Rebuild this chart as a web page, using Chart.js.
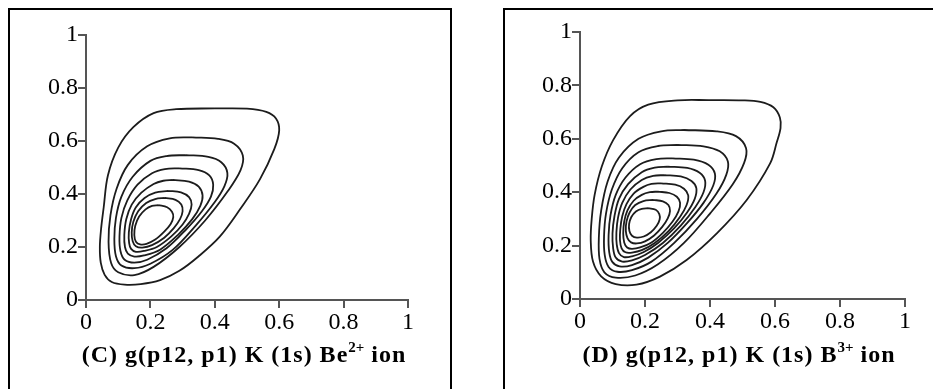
<!DOCTYPE html>
<html>
<head>
<meta charset="utf-8">
<title>g(p12, p1) contours</title>
<script src="https://cdn.jsdelivr.net/npm/chart.js@4.4.0/dist/chart.umd.min.js"></script>
<style>
    body {
        margin: 0;
        width: 933px;
        height: 389px;
        overflow: hidden;
        position: relative;
        background: #fff;
        font-family: "Liberation Serif", "Times New Roman", serif;
    }
    .box {
        position: absolute;
        top: 8px;
        height: 400px;
        border: 2px solid #000;
        box-sizing: border-box;
    }
    #boxC { left: 8px; width: 444px; }
    #boxD { left: 503px; width: 460px; }
    canvas { position: absolute; }
    .caption {
        position: absolute;
        top: 341px;
        font-size: 24px;
        line-height: 26px;
        letter-spacing: 1px;
        font-weight: bold;
        white-space: nowrap;
        transform: translateX(-50%);
    }
    .caption sup { font-size: 15px; vertical-align: 10px; line-height: 0; letter-spacing: 0; }
</style>
</head>
<body>
<div class="box" id="boxC"></div>
<div class="box" id="boxD"></div>
<canvas id="chartC" width="440" height="330" style="left:10px; top:10px;"></canvas>
<canvas id="chartD" width="428" height="330" style="left:505px; top:10px;"></canvas>
<div class="caption" id="capC" style="left:244px;"></div>
<div class="caption" id="capD" style="left:739px;"></div>

<script>
// tick labels shared by both axes of both panels
const tickValues = [0, 0.2, 0.4, 0.6, 0.8, 1];

// captions
const captionC = ["(C) g(p12, p1) K (1s) Be", "2+", " ion"];
const captionD = ["(D) g(p12, p1) K (1s) B", "3+", " ion"];

// contour lines, panel C (Be2+), outer to inner, [p12, p1] points
const contoursC = [
    [[0.40,0.723],[0.50,0.722],[0.56,0.71],[0.59,0.685],[0.60,0.64],[0.585,0.57],[0.54,0.455],[0.48,0.345],[0.416,0.24],[0.35,0.165],[0.29,0.11],[0.23,0.075],[0.17,0.06],[0.12,0.058],[0.08,0.068],[0.058,0.095],[0.046,0.14],[0.043,0.2],[0.047,0.27],[0.055,0.35],[0.068,0.47],[0.1,0.575],[0.147,0.652],[0.21,0.705],[0.28,0.72],[0.40,0.723]],
    [[0.33,0.614],[0.41,0.608],[0.46,0.59],[0.487,0.545],[0.48,0.49],[0.44,0.41],[0.37,0.30],[0.29,0.20],[0.21,0.125],[0.15,0.094],[0.10,0.105],[0.078,0.14],[0.070,0.22],[0.076,0.32],[0.095,0.42],[0.13,0.51],[0.19,0.58],[0.26,0.61],[0.33,0.614]],
    [[0.31,0.547],[0.38,0.54],[0.42,0.52],[0.439,0.48],[0.43,0.43],[0.40,0.37],[0.34,0.28],[0.27,0.19],[0.20,0.137],[0.15,0.12],[0.11,0.13],[0.093,0.165],[0.088,0.23],[0.093,0.31],[0.11,0.39],[0.145,0.465],[0.2,0.525],[0.25,0.543],[0.31,0.547]],
    [[0.29,0.497],[0.35,0.49],[0.383,0.47],[0.395,0.435],[0.388,0.39],[0.36,0.335],[0.31,0.265],[0.25,0.195],[0.19,0.152],[0.15,0.141],[0.12,0.152],[0.107,0.185],[0.104,0.24],[0.11,0.31],[0.128,0.375],[0.16,0.435],[0.205,0.478],[0.245,0.494],[0.29,0.497]],
    [[0.27,0.453],[0.32,0.447],[0.35,0.428],[0.362,0.395],[0.355,0.355],[0.33,0.305],[0.285,0.245],[0.23,0.19],[0.18,0.168],[0.15,0.164],[0.13,0.175],[0.121,0.2],[0.119,0.245],[0.125,0.305],[0.142,0.36],[0.172,0.405],[0.21,0.438],[0.24,0.45],[0.27,0.453]],
    [[0.255,0.412],[0.295,0.406],[0.32,0.388],[0.328,0.36],[0.32,0.325],[0.30,0.285],[0.265,0.24],[0.22,0.2],[0.18,0.185],[0.155,0.182],[0.14,0.193],[0.134,0.215],[0.133,0.255],[0.14,0.305],[0.155,0.35],[0.182,0.385],[0.215,0.405],[0.255,0.412]],
    [[0.245,0.385],[0.278,0.378],[0.296,0.36],[0.30,0.335],[0.292,0.305],[0.272,0.27],[0.243,0.235],[0.205,0.207],[0.175,0.198],[0.155,0.203],[0.145,0.222],[0.142,0.255],[0.147,0.295],[0.162,0.335],[0.187,0.366],[0.215,0.381],[0.245,0.385]],
    [[0.225,0.358],[0.252,0.35],[0.267,0.333],[0.271,0.313],[0.263,0.287],[0.243,0.258],[0.215,0.228],[0.188,0.212],[0.168,0.21],[0.155,0.22],[0.15,0.245],[0.153,0.28],[0.165,0.315],[0.185,0.342],[0.205,0.355],[0.225,0.358]]
];

// contour lines, panel D (B3+)
const contoursD = [
    [[0.40,0.745],[0.50,0.744],[0.555,0.738],[0.595,0.718],[0.615,0.68],[0.617,0.64],[0.605,0.585],[0.585,0.508],[0.513,0.371],[0.421,0.246],[0.328,0.146],[0.246,0.084],[0.174,0.054],[0.11,0.056],[0.065,0.085],[0.04,0.14],[0.033,0.22],[0.036,0.3],[0.045,0.39],[0.067,0.496],[0.102,0.595],[0.154,0.685],[0.21,0.728],[0.30,0.744],[0.40,0.745]],
    [[0.32,0.633],[0.42,0.628],[0.48,0.61],[0.511,0.565],[0.505,0.51],[0.47,0.43],[0.40,0.32],[0.32,0.21],[0.24,0.13],[0.17,0.088],[0.11,0.08],[0.075,0.1],[0.06,0.15],[0.058,0.23],[0.065,0.33],[0.085,0.44],[0.12,0.53],[0.18,0.6],[0.25,0.628],[0.32,0.633]],
    [[0.30,0.577],[0.38,0.572],[0.43,0.553],[0.455,0.515],[0.45,0.465],[0.42,0.395],[0.36,0.3],[0.29,0.21],[0.22,0.14],[0.16,0.108],[0.115,0.102],[0.088,0.12],[0.076,0.165],[0.074,0.235],[0.08,0.32],[0.098,0.41],[0.13,0.49],[0.18,0.55],[0.24,0.573],[0.30,0.577]],
    [[0.285,0.527],[0.35,0.522],[0.395,0.503],[0.415,0.47],[0.41,0.425],[0.38,0.36],[0.33,0.285],[0.27,0.21],[0.21,0.155],[0.16,0.127],[0.122,0.122],[0.1,0.138],[0.09,0.175],[0.088,0.24],[0.094,0.315],[0.11,0.39],[0.14,0.455],[0.185,0.505],[0.235,0.524],[0.285,0.527]],
    [[0.27,0.496],[0.33,0.491],[0.368,0.473],[0.385,0.443],[0.38,0.4],[0.355,0.345],[0.31,0.275],[0.255,0.21],[0.2,0.165],[0.16,0.145],[0.13,0.14],[0.11,0.155],[0.102,0.19],[0.1,0.245],[0.106,0.31],[0.12,0.375],[0.148,0.43],[0.19,0.475],[0.23,0.492],[0.27,0.496]],
    [[0.26,0.464],[0.31,0.459],[0.343,0.442],[0.358,0.415],[0.353,0.375],[0.33,0.325],[0.29,0.265],[0.24,0.21],[0.195,0.175],[0.16,0.16],[0.135,0.157],[0.12,0.172],[0.113,0.205],[0.112,0.25],[0.117,0.305],[0.13,0.36],[0.155,0.41],[0.19,0.446],[0.225,0.461],[0.26,0.464]],
    [[0.25,0.433],[0.293,0.428],[0.32,0.413],[0.333,0.388],[0.328,0.352],[0.308,0.308],[0.273,0.255],[0.23,0.21],[0.19,0.183],[0.16,0.174],[0.14,0.175],[0.128,0.19],[0.123,0.22],[0.124,0.262],[0.13,0.31],[0.143,0.355],[0.165,0.395],[0.195,0.42],[0.22,0.431],[0.25,0.433]],
    [[0.24,0.402],[0.275,0.397],[0.298,0.383],[0.308,0.36],[0.303,0.328],[0.285,0.29],[0.255,0.248],[0.22,0.212],[0.185,0.193],[0.16,0.188],[0.145,0.193],[0.136,0.212],[0.133,0.245],[0.136,0.29],[0.146,0.332],[0.165,0.368],[0.19,0.39],[0.215,0.4],[0.24,0.402]],
    [[0.225,0.371],[0.255,0.366],[0.272,0.352],[0.277,0.33],[0.27,0.302],[0.253,0.27],[0.228,0.238],[0.2,0.216],[0.175,0.208],[0.157,0.212],[0.146,0.228],[0.141,0.255],[0.143,0.29],[0.153,0.325],[0.17,0.352],[0.195,0.367],[0.225,0.371]],
    [[0.21,0.34],[0.233,0.334],[0.244,0.318],[0.245,0.298],[0.236,0.274],[0.218,0.25],[0.196,0.234],[0.175,0.23],[0.16,0.237],[0.152,0.255],[0.151,0.28],[0.158,0.307],[0.172,0.328],[0.19,0.338],[0.21,0.34]]
];

const serif = "'Liberation Serif', 'Times New Roman', serif";

function setCaption(id, parts) {
    const el = document.getElementById(id);
    el.innerHTML = `${parts[0]}<sup>${parts[1]}</sup>${parts[2]}`;
}

function axisOptions(fitSize, isX) {
    return {
        type: 'linear',
        min: 0,
        max: 1,
        afterBuildTicks: (scale) => {
            scale.ticks = tickValues.map(v => ({ value: v }));
        },
        ticks: {
            color: '#000',
            font: { family: serif, size: 24 },
            padding: isX ? 0 : 0,
            maxRotation: 0,
            autoSkip: false,
            callback: (v) => String(v)
        },
        grid: {
            display: true,
            drawOnChartArea: false,
            drawTicks: true,
            tickLength: 8,
            color: '#555',
            lineWidth: 2
        },
        border: { display: true, color: '#555', width: 2 },
        afterFit: (scale) => {
            if (isX) scale.height = fitSize;
            else scale.width = fitSize;
        }
    };
}

function makeChart(canvasId, contours, area) {
    const datasets = contours.map(pts => ({
        data: pts.map(p => ({ x: p[0], y: p[1] })),
        showLine: true,
        pointRadius: 0,
        borderColor: '#1c1c1c',
        borderWidth: 1.8,
        tension: 0.35,
        fill: false
    }));

    return new Chart(document.getElementById(canvasId), {
        type: 'scatter',
        data: { datasets },
        options: {
            responsive: false,
            animation: false,
            layout: { padding: { top: area.top, right: area.right, left: 0, bottom: 0 } },
            plugins: {
                legend: { display: false },
                tooltip: { enabled: false }
            },
            scales: {
                x: axisOptions(area.xHeight, true),
                y: axisOptions(area.yWidth, false)
            }
        }
    });
}

setCaption("capC", captionC);
setCaption("capD", captionD);

makeChart("chartC", contoursC, { top: 25, right: 42, yWidth: 76, xHeight: 40 });
makeChart("chartD", contoursD, { top: 22, right: 28, yWidth: 75, xHeight: 41 });
</script>
</body>
</html>
